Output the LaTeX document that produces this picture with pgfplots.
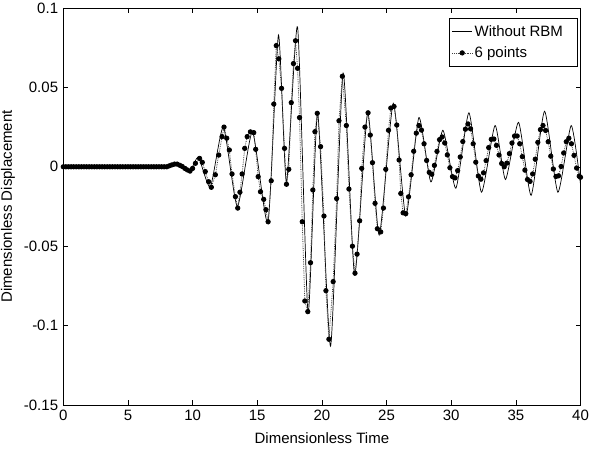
\documentclass[border=0pt]{standalone}
\usepackage{fontspec}
\setmainfont{Liberation Sans}
\usepackage{pgfplots}
\usepackage{pgfplotstable}
\pgfplotsset{compat=1.18}
\pgfplotstableread{
t y
0 0
8.0 0
8.3 0.001
8.8 0.002
9.3 0.0
9.8 -0.003
10.45 0.006
11.37 -0.0127
12.38 0.025
13.46 -0.025
14.63 0.022
15.83 -0.035
16.64 0.083
17.26 -0.010
18.12 0.088
18.93 -0.092
19.67 0.034
20.67 -0.113
21.64 0.059
22.53 -0.068
23.54 0.034
24.43 -0.043
25.52 0.040
26.49 -0.031
27.50 0.031
28.43 -0.0095
29.36 0.023
30.36 -0.0135
31.37 0.034
32.34 -0.016
33.39 0.026
34.20 -0.008
35.21 0.028
36.18 -0.018
37.22 0.035
38.25 -0.016
39.28 0.026
40.0 -0.011
}\solid
\pgfplotstableread{
t y
0 0
0.2 0
0.4 0
0.6 0
0.8 0
1.0 0
1.2 0
1.4 0
1.6 0
1.8 0
2.0 0
2.2 0
2.4 0
2.6 0
2.8 0
3.0 0
3.2 0
3.4 0
3.6 0
3.8 0
4.0 0
4.2 0
4.4 0
4.6 0
4.8 0
5.0 0
5.2 0
5.4 0
5.6 0
5.8 0
6.0 0
6.2 0
6.4 0
6.6 0
6.8 0
7.0 0
7.2 0
7.4 0
7.6 0
7.8 0
8.0 0
8.2 0.0006
8.4 0.0012
8.6 0.0017
8.8 0.0017
9.0 0.001
9.2 0.0002
9.4 -0.001
9.6 -0.002
9.8 -0.0027
10.0 -0.001
10.22 0.0022
10.54 0.0053
10.75 0.0028
10.98 -0.003
11.24 -0.0094
11.45 -0.0129
11.76 -0.005
12.02 0.0074
12.28 0.019
12.43 0.025
12.64 0.018
12.84 0.0106
13.05 -0.0045
13.31 -0.0188
13.49 -0.026
13.66 -0.016
13.83 -0.0045
14.03 0.0116
14.22 0.019
14.47 0.022
14.73 0.0215
14.88 0.011
15.07 -0.0062
15.25 -0.0157
15.5 -0.0205
15.67 -0.027
15.84 -0.0346
16.08 -0.0088
16.28 0.0395
16.47 0.0763
16.67 0.068
16.88 0.0494
17.11 0.0116
17.26 -0.011
17.44 -0.0016
17.63 0.0404
17.8 0.065
17.96 0.0794
18.12 0.062
18.27 0.031
18.48 -0.0346
18.68 -0.0845
18.91 -0.0912
19.12 -0.0604
19.3 -0.0146
19.46 0.0221
19.64 0.0337
19.9 0.0127
20.16 -0.031
20.31 -0.078
20.54 -0.1086
20.87 -0.0723
21.14 -0.020
21.32 0.029
21.58 0.057
21.89 0.026
22.09 -0.014
22.36 -0.050
22.56 -0.067
22.72 -0.055
22.92 -0.034
23.08 -0.001
23.33 0.025
23.57 0.034
23.74 0.020
23.91 0.0026
24.11 -0.023
24.29 -0.039
24.55 -0.041
24.76 -0.026
24.94 -0.0016
25.15 0.023
25.33 0.037
25.58 0.038
25.79 0.0263
25.97 0.0043
26.1 -0.0168
26.28 -0.029
26.49 -0.0295
26.7 -0.0189
26.9 -0.005
27.1 0.0098
27.3 0.0212
27.5 0.026
27.7 0.0231
27.9 0.0145
28.1 0.004
28.3 -0.0035
28.5 -0.0047
28.7 0.0009
28.9 0.0097
29.1 0.0171
29.3 0.0188
29.5 0.015
29.7 0.0075
29.9 -0.0006
30.1 -0.0062
30.3 -0.0070
30.5 -0.0024
30.7 0.0062
30.9 0.0159
31.1 0.0237
31.3 0.027
31.5 0.0239
31.7 0.0145
31.9 0.0029
32.1 -0.0058
32.3 -0.0078
32.5 -0.0038
32.7 0.0039
32.9 0.0121
33.1 0.0173
33.3 0.0175
33.5 0.0135
33.7 0.0074
33.9 0.0021
34.1 0.0
34.3 0.0023
34.5 0.0083
34.7 0.015
34.9 0.0194
35.1 0.0194
35.3 0.0145
35.5 0.0064
35.7 -0.0021
35.9 -0.008
36.1 -0.0092
36.3 -0.0045
36.5 0.0048
36.7 0.0154
36.9 0.0234
37.1 0.026
37.3 0.0229
37.5 0.0158
37.7 0.0067
37.9 -0.0014
38.1 -0.0061
38.3 -0.0057
38.5 0.0002
38.7 0.0087
38.9 0.0158
39.1 0.018
39.3 0.0145
39.5 0.0072
39.7 -0.0008
39.9 -0.0059
40.0 -0.0066
}\marked
\begin{document}
\fontsize{15}{18}\selectfont
\begin{tikzpicture}
\useasboundingbox (-63.3pt,-43pt) rectangle (525.7pt,405pt);
\begin{axis}[
 at={(0,0)}, anchor=south west,
 scale only axis, width=517.2pt, height=397pt,
 xmin=0, xmax=40, ymin=-0.15, ymax=0.1,
 xtick={0,5,10,15,20,25,30,35,40},
 xticklabels={0,5,10,15,20,25,30,35,40},
 ytick={-0.15,-0.1,-0.05,0,0.05,0.1},
 yticklabels={-0.15,-0.1,-0.05,0,0.05,0.1},
 scaled y ticks=false, scaled x ticks=false,
 tick align=inside, tick pos=both, major tick length=5pt,
 axis line style={line width=0.8pt},
 every tick/.style={black, line width=0.6pt},
 tick label style={font=\fontsize{15}{18}\selectfont},
 label style={font=\fontsize{15}{18}\selectfont},
 xlabel={Dimensionless Time}, ylabel={Dimensionless Displacement},
 every axis x label/.style={at={(axis description cs:0.5,-0.083)},anchor=center},
 every axis y label/.style={at={(axis description cs:-0.107,0.5)},rotate=90,anchor=center},
 legend style={at={(axis description cs:0.995,0.975)}, anchor=north east, draw=black, line width=0.6pt, font=\fontsize{15}{18}\selectfont, inner xsep=3pt, inner ysep=5pt, row sep=4pt},
 legend cell align=left,
 legend image code/.code={\draw[mark repeat=2,mark phase=2,#1] plot coordinates {(0pt,0pt) (10pt,0pt) (20pt,0pt)};},
]
\addplot[black, line width=0.7pt, smooth, tension=0.35] table[x=t,y=y] {\solid};
\addlegendentry{\makebox[98pt][l]{Without RBM}}
\addplot[black!75, densely dotted, line width=0.8pt, mark=*, mark size=2.2pt, mark options={solid, fill=black, draw=black}] table[x=t,y=y] {\marked};
\addlegendentry{\makebox[98pt][l]{6 points}}
\end{axis}
\end{tikzpicture}
\end{document}
